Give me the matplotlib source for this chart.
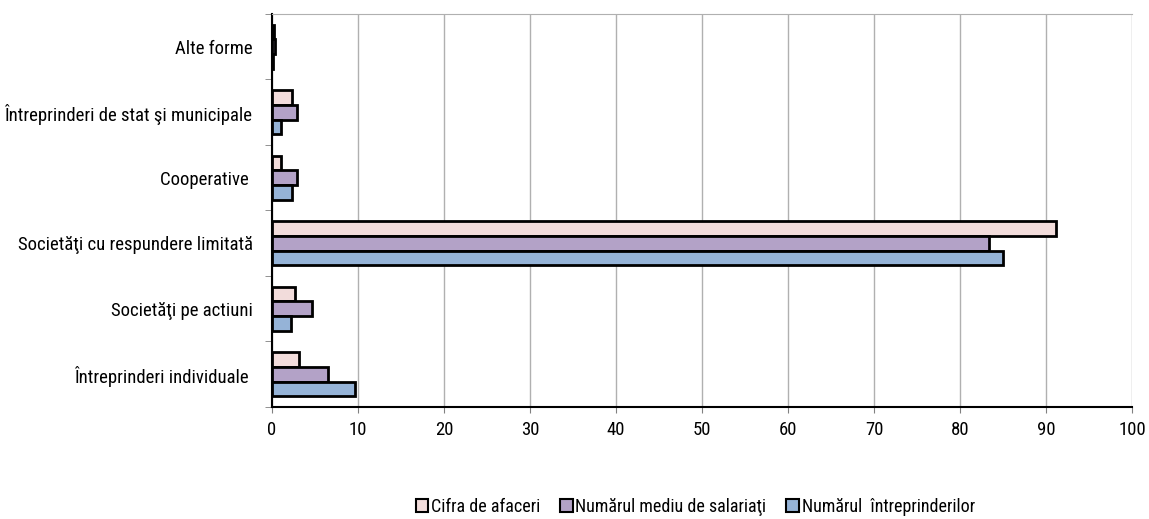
import numpy as np
import matplotlib
matplotlib.use("Agg")
import matplotlib.pyplot as plt
from matplotlib.ticker import FixedLocator
from matplotlib import font_manager

categories = ["Întreprinderi individuale ", "Societăţi pe actiuni", "Societăţi cu respundere limitată",
              "Cooperative ", "Întreprinderi de stat şi municipale", "Alte forme"]
cifra = [3.1, 2.7, 91.2, 1.0, 2.3, 0.2]
mediu = [6.5, 4.6, 83.4, 2.9, 2.9, 0.3]
intreprinderi = [9.6, 2.2, 85.0, 2.3, 1.1, 0.1]
series_names = ["Cifra de afaceri", "Numărul mediu de salariaţi", "Numărul  întreprinderilor"]
colors = ["#F2DCDB", "#B3A2C7", "#95B3D7"]

# prefer a narrow face if one is around
names = {f.name for f in font_manager.fontManager.ttflist}
fams = [n for n in ["Liberation Sans Narrow", "Roboto Condensed", "Open Sans Condensed"] if n in names]
plt.rcParams['font.family'] = fams + ['Liberation Sans', 'DejaVu Sans']
narrow = len(fams) > 0

fig = plt.figure(figsize=(11.49, 5.19), dpi=100)
ax = fig.add_axes([0.2367, 0.216, 0.7486, 0.757])

y = np.arange(len(categories))
h = 0.225
ax.barh(y + h, cifra, h, color=colors[0], edgecolor="black", linewidth=2, label=series_names[0], zorder=3)
ax.barh(y, mediu, h, color=colors[1], edgecolor="black", linewidth=2, label=series_names[1], zorder=3)
ax.barh(y - h, intreprinderi, h, color=colors[2], edgecolor="black", linewidth=2, label=series_names[2], zorder=3)

ax.set_xlim(0, 100)
ax.set_ylim(-0.5, len(categories) - 0.5)
ax.set_xticks(np.arange(0, 101, 10))
ax.set_yticks(y)
ax.set_yticklabels(categories, fontsize=13.5 if narrow else 12)
ax.yaxis.set_minor_locator(FixedLocator(np.arange(-0.5, len(categories), 1)))
ax.tick_params(axis="y", which="major", length=0, pad=14)
ax.tick_params(axis="y", which="minor", length=5, color="#808080")
ax.tick_params(axis="x", labelsize=13.5 if narrow else 12, length=4, color="#808080", pad=6)

ax.grid(axis="x", color="#B0B0B0", linewidth=1, zorder=0)
ax.spines["left"].set_color("black")
ax.spines["left"].set_linewidth(1.5)
ax.spines["bottom"].set_color("black")
ax.spines["bottom"].set_linewidth(1.5)
ax.spines["top"].set_color("#B0B0B0")
ax.spines["right"].set_visible(False)

fig.legend(loc="center", bbox_to_anchor=(0.605, 0.023), ncol=3, frameon=False,
           fontsize=13 if narrow else 11, borderpad=0,
           handlelength=0.7, handleheight=0.7, handletextpad=0.15, columnspacing=1.1)
for p in fig.legends[0].get_patches():
    p.set_linewidth(1.5)

plt.savefig("out.png", dpi=100)
